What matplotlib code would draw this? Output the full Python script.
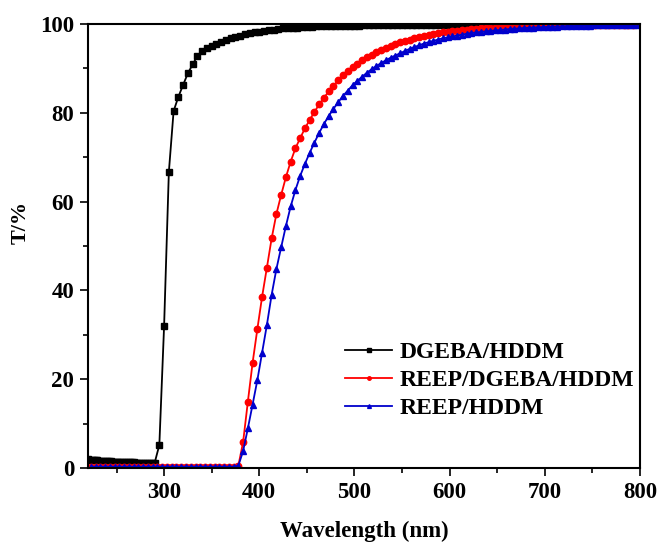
import matplotlib
matplotlib.use('Agg')
import matplotlib.pyplot as plt
import numpy as np

# ---- data ----
# DGEBA/HDDM: dense points below 290 nm, then 5 nm steps
wl_dgeba = list(range(220, 292, 2)) + list(range(295, 805, 5))
t_dgeba = [2.0, 1.9, 1.85, 1.8, 1.75, 1.7, 1.65, 1.6, 1.58, 1.55, 1.52, 1.5,
           1.47, 1.45, 1.42, 1.4, 1.38, 1.36, 1.34, 1.32, 1.3, 1.28, 1.26, 1.25,
           1.24, 1.22, 1.2, 1.19, 1.18, 1.17, 1.16, 1.15, 1.14, 1.13, 1.12, 1.1,
           # 295 ...
           5.2, 32.0, 66.7, 80.4, 83.6, 86.3, 88.9, 90.9, 92.8, 93.9,
           94.6, 95.1, 95.6, 96.0, 96.4, 96.8, 97.1, 97.4, 97.7, 97.9,
           98.1, 98.3, 98.5, 98.6, 98.75, 98.9, 99.0, 99.1, 99.15, 99.2,
           99.3, 99.35, 99.4, 99.45, 99.47, 99.5, 99.52, 99.55, 99.57, 99.6,
           99.62, 99.64, 99.66, 99.68, 99.7, 99.71, 99.72, 99.73, 99.74, 99.75,
           99.76, 99.77, 99.78, 99.79, 99.8, 99.81, 99.82, 99.83, 99.84, 99.85,
           99.86, 99.86, 99.87, 99.87, 99.88, 99.88, 99.89, 99.89, 99.9, 99.9,
           99.91, 99.91, 99.92, 99.92, 99.93, 99.93, 99.94, 99.94, 99.95, 99.95,
           99.95, 99.96, 99.96, 99.96, 99.97, 99.97, 99.97, 99.98, 99.98, 99.98,
           99.98, 99.99, 99.99, 99.99, 99.99, 100.0, 100.0, 100.0, 100.0, 100.0,
           100.0, 100.0]

# REEP/DGEBA/HDDM and REEP/HDDM share the same wavelength grid
wl_reep = list(range(223, 803, 5))
t_reep_dgeba = [0.3] * 31 + [0.5,
                5.8, 14.9, 23.7, 31.3, 38.6, 45.1, 51.7, 57.2, 61.5, 65.5,
                69.0, 72.0, 74.3, 76.5, 78.4, 80.2, 81.9, 83.4, 84.8, 86.1,
                87.3, 88.4, 89.4, 90.3, 91.1, 91.8, 92.5, 93.1, 93.7, 94.2,
                94.7, 95.1, 95.5, 95.9, 96.2, 96.5, 96.8, 97.1, 97.3, 97.5,
                97.7, 97.9, 98.1, 98.3, 98.4, 98.5, 98.65, 98.75, 98.85, 98.95,
                99.0, 99.1, 99.15, 99.2, 99.25, 99.3, 99.35, 99.4, 99.45, 99.5,
                99.5, 99.55, 99.6, 99.6, 99.63, 99.65, 99.67, 99.69, 99.71, 99.73,
                99.74, 99.76, 99.77, 99.78, 99.8, 99.81, 99.82, 99.83, 99.84, 99.85,
                99.86, 99.87, 99.88, 99.9]
t_reep = [0.3] * 31 + [0.5,
          3.8, 8.9, 14.3, 19.8, 26.0, 32.2, 39.0, 44.8, 49.7, 54.5,
          58.9, 62.6, 65.8, 68.5, 71.0, 73.3, 75.5, 77.5, 79.3, 80.9,
          82.4, 83.8, 85.0, 86.2, 87.2, 88.1, 89.0, 89.8, 90.5, 91.2,
          91.8, 92.4, 92.9, 93.4, 93.9, 94.4, 94.8, 95.2, 95.6, 95.9,
          96.2, 96.5, 96.8, 97.0, 97.2, 97.4, 97.6, 97.8, 97.95, 98.1,
          98.2, 98.35, 98.45, 98.55, 98.65, 98.75, 98.85, 98.95, 99.0, 99.1,
          99.15, 99.2, 99.25, 99.3, 99.35, 99.4, 99.43, 99.46, 99.5, 99.53,
          99.56, 99.59, 99.62, 99.65, 99.67, 99.7, 99.72, 99.74, 99.76, 99.78,
          99.8, 99.82, 99.84, 99.86]

plt.rcParams['font.family'] = 'Liberation Serif'
plt.rcParams['font.weight'] = 'bold'

fig = plt.figure(figsize=(6.59, 5.44), dpi=100)
ax = fig.add_axes([0.1335, 0.1397, 0.8375, 0.8162])

ax.plot(wl_dgeba, t_dgeba, color='black', marker='s', ms=4.3, lw=1.3,
        label='DGEBA/HDDM')
ax.plot(wl_reep, t_reep_dgeba, color='#FF0000', marker='o', ms=4.6, lw=1.3,
        label='REEP/DGEBA/HDDM')
ax.plot(wl_reep, t_reep, color='#0000CC', marker='^', ms=5.0, lw=1.3,
        label='REEP/HDDM')

ax.set_xlim(220, 800)
ax.set_ylim(0, 100)
ax.set_xticks([300, 400, 500, 600, 700, 800])
ax.set_xticks(np.arange(250, 800, 100), minor=True)
ax.set_yticks([0, 20, 40, 60, 80, 100])
ax.set_yticks(np.arange(10, 100, 20), minor=True)
ax.tick_params(which='major', direction='out', length=6, width=1.2,
               labelsize=16.5, pad=4)
ax.tick_params(which='minor', direction='out', length=3.5, width=1.2)
for s in ax.spines.values():
    s.set_linewidth(1.5)

ax.set_xlabel('Wavelength (nm)', fontsize=16.5, fontweight='bold', labelpad=13)
ax.set_ylabel('T/%', fontsize=16, fontweight='bold')
ax.yaxis.set_label_coords(-0.104, 0.554)

lgd = ax.legend(loc='upper left', bbox_to_anchor=(0.4656, 0.285), frameon=False,
                fontsize=17, handlelength=2.0, markerscale=0.55,
                labelspacing=0.27, handletextpad=0.3, borderpad=0,
                borderaxespad=0)

plt.savefig('out.png', dpi=100)
